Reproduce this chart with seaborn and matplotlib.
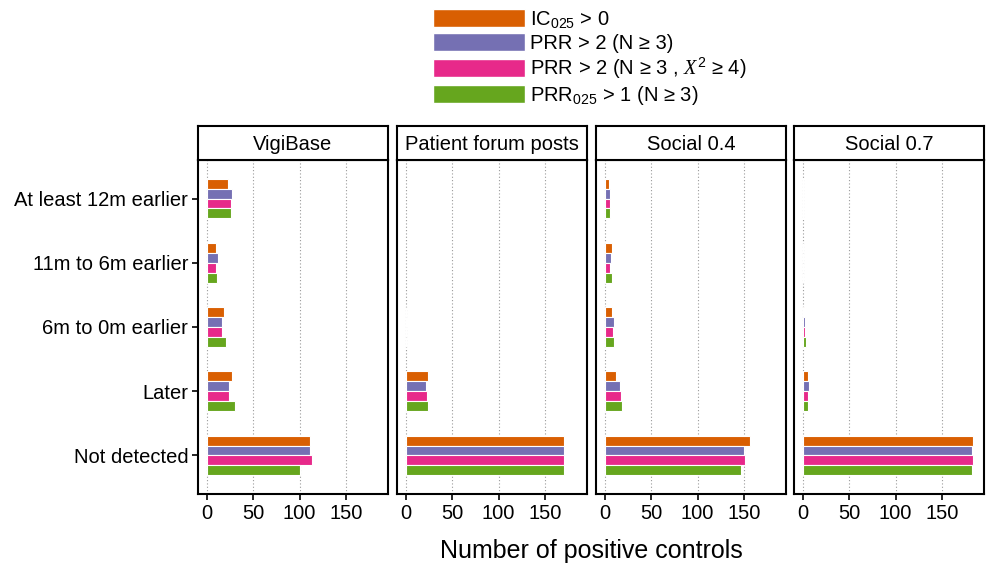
import pandas as pd
import seaborn as sns
import matplotlib.pyplot as plt
from matplotlib.patches import Patch

# --- Data ---
SOURCES = ["VigiBase", "Patient forum posts", "Social 0.4", "Social 0.7"]
PERIODS = ["At least 12m earlier", "11m to 6m earlier", "6m to 0m earlier", "Later", "Not detected"]
METHODS = ["IC025", "PRR", "PRR chi2", "PRR025"]
METHOD_LABELS = [
    r"IC$_{025}$ > 0",
    "PRR > 2 (N ≥ 3)",
    r"PRR > 2 (N ≥ 3 , $X^2$ ≥ 4)",
    r"PRR$_{025}$ > 1 (N ≥ 3)",
]
COLORS = ["#D95F02", "#7570B3", "#E7298A", "#66A61E"]

# counts per period, one list per method (None = no row in the data)
vigibase = {
    "IC025":    [23, 10, 19, 27, 111],
    "PRR":      [27, 12, 17, 24, 111],
    "PRR chi2": [26, 10, 17, 24, 113],
    "PRR025":   [26, 11, 21, 31, 101],
}
forum = {
    "IC025":    [None, None, 0, 24, 170],
    "PRR":      [None, None, 1, 22, 171],
    "PRR chi2": [None, None, 0, 23, 171],
    "PRR025":   [None, None, 0, 24, 170],
}
social04 = {
    "IC025":    [5, 8, 8, 12, 157],
    "PRR":      [6, 7, 10, 17, 150],
    "PRR chi2": [6, 6, 9, 18, 151],
    "PRR025":   [6, 8, 10, 19, 147],
}
social07 = {
    "IC025":    [0, 0, 2, 6, 183],
    "PRR":      [0, 0, 3, 7, 182],
    "PRR chi2": [0, 0, 3, 6, 183],
    "PRR025":   [0, 0, 4, 6, 182],
}

rows = []
for src, table in zip(SOURCES, [vigibase, forum, social04, social07]):
    for m in METHODS:
        for p, v in zip(PERIODS, table[m]):
            if v is not None:
                rows.append({"source": src, "method": m, "period": p, "count": v})
df = pd.DataFrame(rows)

# --- Styling ---
sns.set_theme(style="ticks")
plt.rcParams["font.family"] = ["Liberation Sans", "DejaVu Sans"]
plt.rcParams["text.color"] = "black"
plt.rcParams["mathtext.fontset"] = "custom"
plt.rcParams["mathtext.rm"] = "Liberation Sans"
plt.rcParams["mathtext.it"] = "Liberation Serif:italic"

W, H = 986, 563
fig = plt.figure(figsize=(W / 100, H / 100), dpi=100)

lefts = [198, 397, 596, 794]
panel_w = 190
for i, src in enumerate(SOURCES):
    ax = fig.add_axes([lefts[i] / W, 1 - 494 / H, panel_w / W, 334 / H])
    sns.barplot(
        data=df[df["source"] == src], x="count", y="period", hue="method",
        order=PERIODS, hue_order=METHODS, palette=COLORS, orient="h",
        width=0.62, saturation=1, edgecolor="white", linewidth=0.8,
        errorbar=None, legend=False, ax=ax,
    )
    ax.set_xlim(-9.3, 195.3)
    ax.set_ylim(4.6, -0.6)
    ax.set_xticks([0, 50, 100, 150])
    ax.grid(axis="x", color="#9a9a9a", linestyle=(0, (1, 2)), linewidth=0.8)
    ax.grid(axis="y", visible=False)
    ax.set_axisbelow(True)
    ax.set_xlabel("")
    ax.set_ylabel("")
    for sp in ax.spines.values():
        sp.set_visible(True)
        sp.set_color("black")
        sp.set_linewidth(1.5)
    ax.tick_params(axis="both", direction="out", length=4, width=1.2,
                   color="black", labelsize=14.5, labelcolor="black", pad=3)
    if i > 0:
        ax.tick_params(axis="y", left=False, labelleft=False)

    # facet strip
    sax = fig.add_axes([lefts[i] / W, 1 - 160 / H, panel_w / W, 34 / H])
    sax.set_xticks([])
    sax.set_yticks([])
    for sp in sax.spines.values():
        sp.set_visible(True)
        sp.set_color("black")
        sp.set_linewidth(1.5)
    sax.text(0.5, 0.45, src, ha="center", va="center", fontsize=14.5,
             transform=sax.transAxes)

fig.text(591 / W, 1 - 551 / H, "Number of positive controls",
         ha="center", va="center", fontsize=18)

handles = [Patch(facecolor=c, edgecolor="white") for c in COLORS]
fig.legend(handles, METHOD_LABELS, loc="upper left",
           bbox_to_anchor=(433 / W, 1 - 9 / H), frameon=False, fontsize=14.5,
           handlelength=4.58, handleheight=1.0, labelspacing=0.14,
           handletextpad=0.25, borderpad=0, borderaxespad=0)

fig.savefig("out.png", dpi=100)
